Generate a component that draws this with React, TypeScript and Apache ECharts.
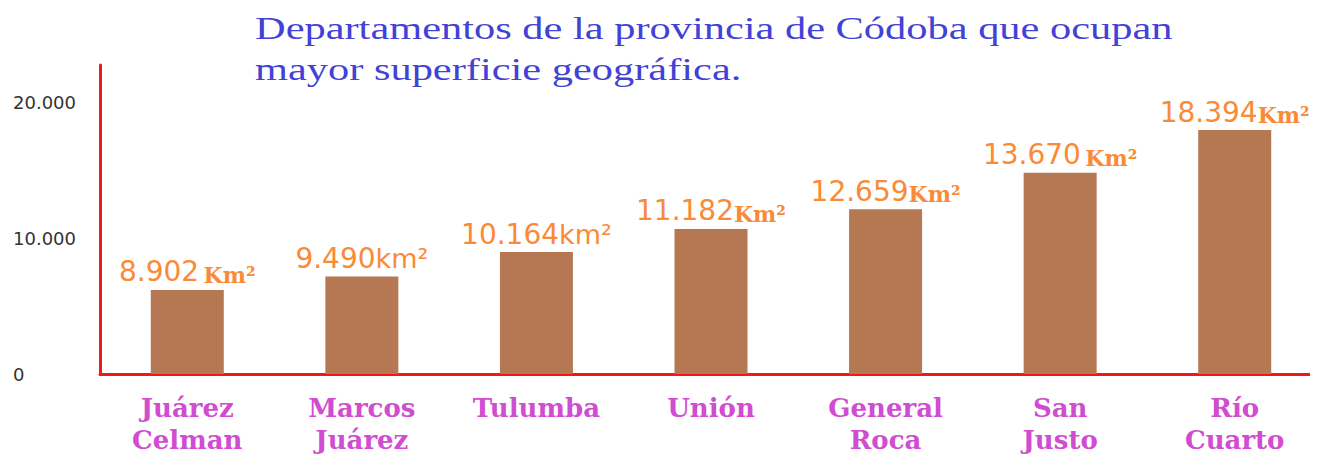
import React, { useEffect, useRef } from "react";
import * as echarts from "echarts";

const categories = ["Juárez\nCelman", "Marcos\nJuárez", "Tulumba", "Unión", "General\nRoca", "San\nJusto", "Río\nCuarto"];
const barValues = [6200, 7200, 9000, 10700, 12150, 14850, 18000];
const labelNumbers = ["8.902", "9.490", "10.164", "11.182", "12.659", "13.670", "18.394"];
const labelSeparators = [" ", "", "", "", "", " ", ""];
const labelUnits = ["Km²", "km²", "km²", "Km²", "Km²", "Km²", "Km²"];
const yTicks = [0, 10000, 20000];
const yTickLabels = ["0", "10.000", "20.000"];
const titleLines = ["Departamentos de la provincia de Códoba que ocupan", "mayor superficie geográfica."];

const ORANGE = "#FA8A36";

export default function App() {
  const ref = useRef<HTMLDivElement>(null);
  useEffect(() => {
    if (!ref.current) return;
    const chart = echarts.init(ref.current, undefined, { renderer: "svg" });
    const titleFont = '32px "Liberation Serif"';
    let sx = 1.35;
    try {
      const ctx = document.createElement("canvas").getContext("2d");
      if (ctx) {
        ctx.font = titleFont;
        const w = ctx.measureText(titleLines[0]).width;
        if (w > 0) sx = 918 / w;
      }
    } catch (e) {}
    chart.setOption({
      animation: false,
      backgroundColor: "#ffffff",
      grid: { left: 100, top: 65, width: 1222, height: 313 },
      graphic: [
        {
          type: "text",
          x: 255,
          y: 28,
          scaleX: sx,
          style: { text: titleLines[0], font: titleFont, fill: "#4242D6", verticalAlign: "middle" },
        },
        {
          type: "text",
          x: 255,
          y: 69,
          scaleX: sx,
          style: { text: titleLines[1], font: titleFont, fill: "#4242D6", verticalAlign: "middle" },
        },
      ],
      xAxis: {
        type: "category",
        data: categories,
        axisLine: { lineStyle: { color: "#F01818", width: 3 } },
        axisTick: { show: false },
        axisLabel: {
          margin: 18,
          interval: 0,
          color: "#D04CD0",
          fontFamily: "DejaVu Serif",
          fontWeight: "bold",
          fontSize: 26,
          lineHeight: 32,
        },
      },
      yAxis: {
        type: "value",
        min: 0,
        max: 22800,
        interval: 10000,
        axisLine: { show: true, lineStyle: { color: "#F01818", width: 3 } },
        axisTick: { show: false },
        splitLine: { show: false },
        axisLabel: {
          showMaxLabel: false,
          align: "left",
          margin: 87,
          color: "#333333",
          fontFamily: "DejaVu Sans",
          fontSize: 18,
          formatter: (v: number) => {
            const i = yTicks.indexOf(v);
            return i >= 0 ? yTickLabels[i] : "";
          },
        },
      },
      series: [
        {
          type: "bar",
          data: barValues,
          barWidth: 73,
          itemStyle: { color: "#B57852" },
          label: {
            show: true,
            position: "top",
            distance: 4,
            formatter: (p: any) => {
              const i = p.dataIndex;
              const unit = labelUnits[i];
              const uKey = unit.charAt(0) === "K" ? "us" : "uk";
              const sep = labelSeparators[i] ? `{s|${labelSeparators[i]}}` : "";
              return `{n|${labelNumbers[i]}}${sep}{${uKey}|${unit}}`;
            },
            rich: {
              n: { fontFamily: "DejaVu Sans", fontSize: 28, color: ORANGE, lineHeight: 32, verticalAlign: "bottom" },
              s: { fontFamily: "DejaVu Sans", fontSize: 14, color: ORANGE, lineHeight: 16, verticalAlign: "bottom" },
              uk: { fontFamily: "DejaVu Sans", fontSize: 27, color: ORANGE, lineHeight: 31, verticalAlign: "bottom" },
              us: {
                fontFamily: "DejaVu Serif",
                fontWeight: "bold",
                fontSize: 22,
                color: ORANGE,
                lineHeight: 26,
                verticalAlign: "bottom",
              },
            },
          },
        },
      ],
    });
    return () => chart.dispose();
  }, []);
  return (
    <div style={{ position: "absolute", left: 0, top: 0, width: 1310, height: 456, overflow: "hidden", background: "#fff" }}>
      <div ref={ref} style={{ width: 1322, height: 456 }} />
    </div>
  );
}
